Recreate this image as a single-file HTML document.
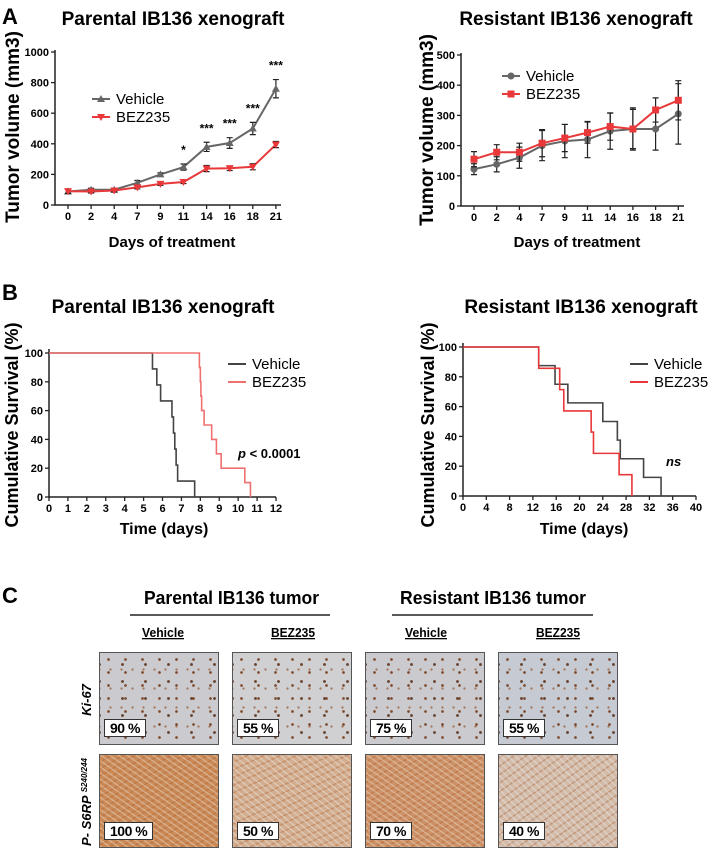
<!DOCTYPE html>
<html><head><meta charset="utf-8">
<style>
html,body{margin:0;padding:0;background:#fff;}
svg{display:block;font-family:"Liberation Sans",Arial,sans-serif;}
.b{font-weight:bold;}
.tile{position:absolute;border:1px solid #555;box-sizing:border-box;overflow:hidden;}
.ki{background-color:#cbcbcf;
background-image:radial-gradient(circle,rgba(110,50,15,.85) 0 1.1px,transparent 1.6px),radial-gradient(circle,rgba(150,85,45,.7) 0 0.9px,transparent 1.4px),radial-gradient(circle,rgba(80,35,10,.8) 0 1.2px,transparent 1.7px);
background-size:17px 13px,11px 19px,23px 17px;background-position:0 0,5px 7px,11px 3px;}
.s6{background-color:#c98a57;
background-image:repeating-linear-gradient(35deg,rgba(240,225,210,.4) 0 1.5px,transparent 1.5px 5px),repeating-linear-gradient(-30deg,rgba(170,90,40,.35) 0 1.5px,transparent 1.5px 6px);}
.s6l{background-color:#d3ad8e;
background-image:repeating-linear-gradient(40deg,rgba(235,230,225,.45) 0 1.5px,transparent 1.5px 5px),repeating-linear-gradient(-25deg,rgba(170,90,40,.35) 0 1.5px,transparent 1.5px 7px);}
.s6xl{background-color:#d4bba8;
background-image:repeating-linear-gradient(45deg,rgba(230,230,232,.45) 0 1.5px,transparent 1.5px 5px),repeating-linear-gradient(-35deg,rgba(160,85,40,.35) 0 1.5px,transparent 1.5px 7px);}
.lbl{position:absolute;left:4px;bottom:7px;height:18px;background:#fff;border:1px solid #333;font:bold 14px "Liberation Sans",sans-serif;line-height:17px;padding:0 5px;box-sizing:border-box;white-space:nowrap;letter-spacing:-0.5px;}
</style></head><body>
<div style="position:relative;width:709px;height:849px;">
<svg id="fig" width="709" height="849" viewBox="0 0 709 849">
<text x="2" y="24" font-size="22" class="b">A</text>
<text x="173" y="25" font-size="19" class="b" text-anchor="middle">Parental IB136 xenograft</text>
<text x="576" y="25" font-size="19" class="b" text-anchor="middle">Resistant IB136 xenograft</text>
<text transform="translate(19,127) rotate(-90)" font-size="19" class="b" text-anchor="middle">Tumor volume (mm3)</text>
<text transform="translate(433,130) rotate(-90)" font-size="19" class="b" text-anchor="middle">Tumor volume (mm3)</text>
<text x="172" y="247" font-size="15" class="b" text-anchor="middle">Days of treatment</text>
<text x="577" y="247" font-size="15" class="b" text-anchor="middle">Days of treatment</text>
<text x="2" y="300" font-size="22" class="b">B</text>
<text x="163" y="313" font-size="19" class="b" text-anchor="middle">Parental IB136 xenograft</text>
<text x="581" y="313" font-size="19" class="b" text-anchor="middle">Resistant IB136 xenograft</text>
<text transform="translate(18,425) rotate(-90)" font-size="18" class="b" text-anchor="middle">Cumulative Survival (%)</text>
<text transform="translate(434,425) rotate(-90)" font-size="18" class="b" text-anchor="middle">Cumulative Survival (%)</text>
<text x="164" y="534" font-size="16" class="b" text-anchor="middle">Time (days)</text>
<text x="584" y="534" font-size="16" class="b" text-anchor="middle">Time (days)</text>
<text x="238" y="458" font-size="13" class="b"><tspan font-style="italic">p</tspan> &lt; 0.0001</text>
<text x="666" y="466" font-size="13" class="b" font-style="italic">ns</text>
<g>
<text x="2" y="603" font-size="22" class="b">C</text>
<text x="144" y="604" font-size="18" class="b" textLength="175" lengthAdjust="spacingAndGlyphs">Parental IB136 tumor</text>
<text x="400" y="604" font-size="18" class="b" textLength="186" lengthAdjust="spacingAndGlyphs">Resistant IB136 tumor</text>
<line x1="130" y1="615" x2="330" y2="615" stroke="#222" stroke-width="1.5"/>
<line x1="392" y1="615" x2="593" y2="615" stroke="#222" stroke-width="1.5"/>
<text x="142" y="637" font-size="13" class="b" textLength="42" lengthAdjust="spacingAndGlyphs" text-decoration="underline">Vehicle</text>
<text x="271" y="637" font-size="13" class="b" textLength="44" lengthAdjust="spacingAndGlyphs" text-decoration="underline">BEZ235</text>
<text x="405" y="637" font-size="13" class="b" textLength="42" lengthAdjust="spacingAndGlyphs" text-decoration="underline">Vehicle</text>
<text x="536" y="637" font-size="13" class="b" textLength="44" lengthAdjust="spacingAndGlyphs" text-decoration="underline">BEZ235</text>
<text transform="translate(91,700) rotate(-90)" font-size="13" class="b" font-style="italic" text-anchor="middle">Ki-67</text>
<text transform="translate(91,802) rotate(-90)" font-size="13" class="b" font-style="italic" text-anchor="middle">P- S6RP <tspan font-size="8" dy="-4">S240/244</tspan></text>
</g>
</svg>
<div class="tile ki" style="left:99px;top:652px;width:120px;height:93px"><div class="lbl">90 %</div></div>
<div class="tile ki" style="left:232px;top:652px;width:120px;height:93px;background-color:#d0d0d3"><div class="lbl">55 %</div></div>
<div class="tile ki" style="left:365px;top:652px;width:120px;height:93px"><div class="lbl">75 %</div></div>
<div class="tile ki" style="left:498px;top:652px;width:120px;height:93px;background-color:#c6cad2"><div class="lbl">55 %</div></div>
<div class="tile s6" style="left:99px;top:754px;width:120px;height:94px"><div class="lbl">100 %</div></div>
<div class="tile s6l" style="left:232px;top:754px;width:120px;height:94px"><div class="lbl">50 %</div></div>
<div class="tile s6" style="left:365px;top:754px;width:120px;height:94px;background-color:#cc9166"><div class="lbl">70 %</div></div>
<div class="tile s6xl" style="left:498px;top:754px;width:120px;height:94px"><div class="lbl">40 %</div></div>
</div>
<script>
const days = ["0","2","4","7","9","11","14","16","18","21"];
const parVehicle = [88,100,100,145,200,248,380,405,500,760];
const parVehicleErr = [15,10,10,15,10,20,30,35,40,60];
const parBez = [90,88,95,115,138,150,238,240,250,395];
const parBezErr = [15,10,10,10,10,10,20,15,20,20];
const parStars = ["","","","","","*","***","***","***","***"];
const parYTicks = [0,200,400,600,800,1000];
const resVehicle = [122,138,160,200,215,220,248,255,255,305];
const resVehicleErr = [18,25,35,50,55,60,60,65,70,100];
const resBez = [155,178,178,208,225,243,263,255,318,350];
const resBezErr = [25,25,30,45,45,35,45,70,40,65];
const resYTicks = [0,100,200,300,400,500];
const kmParVehT = [5.47,5.7,5.9,6.5,6.58,6.65,6.72,6.8,7.7];
const kmParVehS = [88.9,77.8,66.7,55.6,44.4,33.3,22.2,11.1,0];
const kmParBezT = [7.95,8.0,8.03,8.07,8.2,8.6,8.85,9.1,10.35,10.65];
const kmParBezS = [90,80,70,60,50,40,30,20,10,0];
const kmParXTicks = [0,1,2,3,4,5,6,7,8,9,10,11,12];
const kmResVehT = [13,15.8,18,24,26.5,27,31,34];
const kmResVehS = [87.5,75,62.5,50,37.5,25,12.5,0];
const kmResBezT = [13,16.6,17.3,22,22.4,26.8,29];
const kmResBezS = [85.7,71.4,57.1,42.9,28.6,14.3,0];
const kmResXTicks = [0,4,8,12,16,20,24,28,32,36,40];
const survTicks = [0,20,40,60,80,100];

const NS='http://www.w3.org/2000/svg';
const svg=document.getElementById('fig');
function mk(tag,attrs,parent){const e=document.createElementNS(NS,tag);for(const k in attrs)e.setAttribute(k,attrs[k]);(parent||svg).appendChild(e);return e;}

function axes(g,name,x0,x1,yb,yt,yTicks,yScale,xLabels,xScale){
  const ax=mk('path',{d:`M${x0},${yt-2}V${yb}H${x1}`,fill:'none',stroke:'#222','stroke-width':1.5},g);
  
  
  yTicks.forEach(v=>{const y=yScale(v);
    mk('line',{x1:x0-4,x2:x0,y1:y,y2:y,stroke:'#222','stroke-width':1.3},g);
    const t=mk('text',{x:x0-6,y:y+4,'font-size':11,'font-weight':'bold','text-anchor':'end'},g);t.textContent=v;
    
    
  });
  xLabels.forEach((lab,i)=>{const x=xScale(lab,i);
    mk('line',{x1:x,x2:x,y1:yb,y2:yb+4,stroke:'#222','stroke-width':1.3},g);
    const t=mk('text',{x:x,y:yb+15,'font-size':11,'font-weight':'bold','text-anchor':'middle'},g);t.textContent=lab;
    
    
  });
}
function marker(g,type,x,y,color){
  if(type==='tu')return mk('path',{d:`M${x},${y-4}L${x+4},${y+3}L${x-4},${y+3}Z`,fill:color},g);
  if(type==='td')return mk('path',{d:`M${x},${y+4}L${x+4},${y-3}L${x-4},${y-3}Z`,fill:color},g);
  if(type==='c')return mk('circle',{cx:x,cy:y,r:3.5,fill:color},g);
  return mk('rect',{x:x-3.5,y:y-3.5,width:7,height:7,fill:color},g);
}
function series(g,name,vals,errs,xS,yS,color,mtype){
  const pts=vals.map((v,i)=>[xS(days[i],i),yS(v)]);
  const l=mk('polyline',{points:pts.map(p=>p.join(',')).join(' '),fill:'none',stroke:color,'stroke-width':2},g);
  
  
  vals.forEach((v,i)=>{const x=xS(days[i],i);const yl=yS(v-errs[i]),yh=yS(v+errs[i]);
    const e=mk('path',{d:`M${x},${yl}V${yh}M${x-3},${yl}H${x+3}M${x-3},${yh}H${x+3}`,stroke:'#222','stroke-width':1.2,fill:'none'},g);
    
    
    const m=marker(g,mtype,x,yS(v),color);
    
    
  });
}
function legend(g,name,x,y,entries){
  entries.forEach((en,i)=>{const yy=y+i*18;
    mk('line',{x1:x,x2:x+18,y1:yy,y2:yy,stroke:en.c,'stroke-width':2},g);
    if(en.m){const m=marker(g,en.m,x+9,yy,en.c);}
    const t=mk('text',{x:x+24,y:yy+5,'font-size':15},g);t.textContent=en.t;
    
    
  });
}
(function(){
  const g=mk('g',{});
  const x0=55,yb=205,yt=52,ymax=1000;
  const yS=v=>yb-(v/ymax)*(yb-yt);
  const xS=(d,i)=>68+i*23.1;
  axes(g,'parental-volume',x0,281,yb,yt,parYTicks,yS,days,xS);
  series(g,'vehicle',parVehicle,parVehicleErr,xS,yS,'#666','tu');
  series(g,'bez235',parBez,parBezErr,xS,yS,'#e8383a','td');
  parStars.forEach((s,i)=>{if(!s)return;const t=mk('text',{x:xS(days[i],i),y:yS(parVehicle[i]+parVehicleErr[i])-10,'font-size':12,'font-weight':'bold','text-anchor':'middle'},g);t.textContent=s;
    
    });
  legend(g,'parental-volume',92,99,[{t:'Vehicle',c:'#666',m:'tu'},{t:'BEZ235',c:'#e8383a',m:'td'}]);
})();
(function(){
  const g=mk('g',{});
  const x0=461,yb=206,yt=55,ymax=500;
  const yS=v=>yb-(v/ymax)*(yb-yt);
  const xS=(d,i)=>474+i*22.7;
  axes(g,'resistant-volume',x0,684,yb,yt,resYTicks,yS,days,xS);
  series(g,'vehicle',resVehicle,resVehicleErr,xS,yS,'#666','c');
  series(g,'bez235',resBez,resBezErr,xS,yS,'#e8383a','s');
  legend(g,'resistant-volume',502,76,[{t:'Vehicle',c:'#666',m:'c'},{t:'BEZ235',c:'#e8383a',m:'s'}]);
})();
function km(g,name,T,S,xS,yS,color){
  let d=`M${xS(0)},${yS(100)}`;
  T.forEach((t,i)=>{d+=`H${xS(t)}V${yS(S[i])}`;});
  const p=mk('path',{d:d,fill:'none',stroke:color,'stroke-width':1.6},g);
  
  
}
(function(){
  const g=mk('g',{});
  const x0=49,x1=276,yb=497,yt=353;
  const yS=v=>yb-(v/100)*(yb-yt);
  const xS=t=>x0+t/12*(x1-x0);
  axes(g,'parental-survival',x0,x1,yb,yt-2,survTicks,yS,kmParXTicks,(l)=>xS(l));
  km(g,'vehicle',kmParVehT,kmParVehS,xS,yS,'#444');
  km(g,'bez235',kmParBezT,kmParBezS,xS,yS,'#f07070');
  legend(g,'parental-survival',228,364,[{t:'Vehicle',c:'#444'},{t:'BEZ235',c:'#f07070'}]);
})();
(function(){
  const g=mk('g',{});
  const x0=463,x1=696,yb=496,yt=347;
  const yS=v=>yb-(v/100)*(yb-yt);
  const xS=t=>x0+t/40*(x1-x0);
  axes(g,'resistant-survival',x0,x1,yb,yt-2,survTicks,yS,kmResXTicks,(l)=>xS(l));
  km(g,'vehicle',kmResVehT,kmResVehS,xS,yS,'#444');
  km(g,'bez235',kmResBezT,kmResBezS,xS,yS,'#e8383a');
  legend(g,'resistant-survival',630,364,[{t:'Vehicle',c:'#444'},{t:'BEZ235',c:'#e8383a'}]);
})();
</script>
</body></html>
